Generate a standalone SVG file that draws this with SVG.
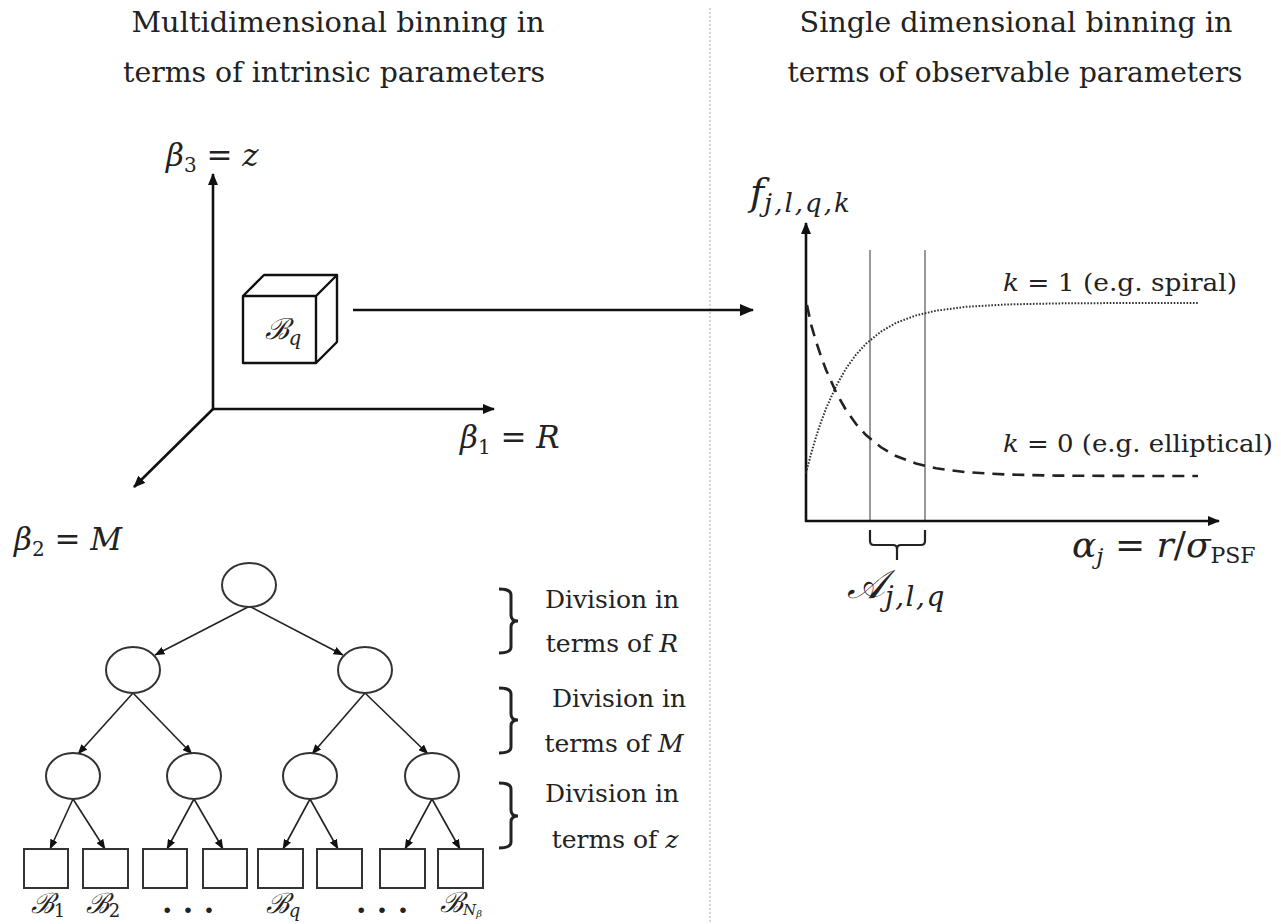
<svg xmlns="http://www.w3.org/2000/svg" width="1281" height="924" viewBox="0 0 1281 924">
<defs>
<style>
text{fill:#222;font-family:"DejaVu Serif","Liberation Serif",serif}
.title{font-size:28px}
.lab{font-size:25px}
.ax{font-size:31px}
.it{font-style:italic}
.sub{font-size:20px}
.axis{stroke:#111;stroke-width:2.6;fill:none}
.edge{stroke:#222;stroke-width:1.6;fill:none}
.node{fill:#fff;stroke:#333;stroke-width:2}
.brace{stroke:#222;stroke-width:3;fill:none}
</style>
<marker id="bigArrow" viewBox="0 0 12 10" refX="11" refY="5" markerWidth="12" markerHeight="10" markerUnits="userSpaceOnUse" orient="auto">
<path d="M0,0 L12,5 L0,10 z" fill="#111"/>
</marker>
<marker id="bigArrow2" viewBox="0 0 14 12" refX="13" refY="6" markerWidth="14" markerHeight="12" markerUnits="userSpaceOnUse" orient="auto">
<path d="M0,0 L14,6 L0,12 z" fill="#111"/>
</marker>
<marker id="smallArrow" viewBox="0 0 10 8" refX="9.5" refY="4" markerWidth="10" markerHeight="8" markerUnits="userSpaceOnUse" orient="auto">
<path d="M0,0 L10,4 L0,8 z" fill="#111"/>
</marker>
</defs>
<rect width="1281" height="924" fill="#fff"/>

<!-- divider -->
<line x1="710" y1="8" x2="710" y2="924" stroke="#c8c8c8" stroke-width="1.5" stroke-dasharray="2 2"/>

<!-- titles -->
<g id="title-left">
<text class="title" x="338" y="32" text-anchor="middle" textLength="413" lengthAdjust="spacingAndGlyphs">Multidimensional binning in</text>
<text class="title" x="334" y="82" text-anchor="middle" textLength="422" lengthAdjust="spacingAndGlyphs">terms of intrinsic parameters</text>
</g>
<g id="title-right">
<text class="title" x="1016" y="32" text-anchor="middle" textLength="433" lengthAdjust="spacingAndGlyphs">Single dimensional binning in</text>
<text class="title" x="1015" y="82" text-anchor="middle" textLength="455" lengthAdjust="spacingAndGlyphs">terms of observable parameters</text>
</g>

<!-- 3D axes -->
<g id="axes3d">
<line class="axis" x1="213" y1="409" x2="213" y2="174" marker-end="url(#bigArrow)"/>
<line class="axis" x1="212" y1="409" x2="494" y2="409" marker-end="url(#bigArrow)"/>
<line class="axis" x1="213" y1="409" x2="134" y2="487" marker-end="url(#bigArrow)"/>
<text class="ax" x="166" y="166"><tspan class="it">β</tspan><tspan class="sub" dy="6">3</tspan><tspan dy="-6"> = </tspan><tspan class="it">z</tspan></text>
<text class="ax" x="460" y="448"><tspan class="it">β</tspan><tspan class="sub" dy="6">1</tspan><tspan dy="-6"> = </tspan><tspan class="it">R</tspan></text>
<text class="ax" x="14" y="550"><tspan class="it">β</tspan><tspan class="sub" dy="6">2</tspan><tspan dy="-6"> = </tspan><tspan class="it">M</tspan></text>
</g>

<!-- cube -->
<g id="cube">
<path d="M243,296 L316,296 L316,363 L243,363 Z M243,296 L264,275 L337,275 L316,296 M337,275 L337,342 L316,363" fill="#fff" stroke="#111" stroke-width="2.4" stroke-linejoin="round"/>
<text x="283" y="339" text-anchor="middle" font-size="29"><tspan class="it">ℬ</tspan><tspan class="sub it" dy="6">q</tspan></text>
</g>

<!-- plot -->
<g id="plot">
<line x1="870" y1="250" x2="870" y2="521" stroke="#999" stroke-width="2"/>
<line x1="925" y1="250" x2="925" y2="521" stroke="#999" stroke-width="2"/>
<line class="axis" x1="806" y1="522" x2="806" y2="223" marker-end="url(#bigArrow)"/>
<line class="axis" x1="805" y1="521" x2="1219" y2="521" marker-end="url(#bigArrow)"/>
<polyline fill="none" stroke="#333" stroke-width="2" stroke-dasharray="1.6 1.6" points="806,473 811,454 816,437 821,422 826,408.6 836,386.3 846,368.6 856,354.7 866,343.8 881,331.6 896,322.9 916,315.4 936,310.7 966,306.8 1006,304.5 1056,303.4 1106,303.1 1198,303"/>
<polyline fill="none" stroke="#222" stroke-width="2.6" stroke-dasharray="12 8" points="807,305 811,324.2 816,341.3 821,356.3 826,369.8 836,392.2 846,410 856,424 866,435 881,447.3 896,456 916,463.5 936,468.3 966,472.2 1006,474.5 1056,475.6 1106,475.9 1198,476"/>
<path class="brace" style="stroke-width:2.2" d="M870,530 L870,541 Q870,545 874,545 L893,545 Q897,545 897,549 L897,560 M897,549 Q897,545 901,545 L921,545 Q925,545 925,541 L925,530"/>
<text x="750" y="205" font-size="38"><tspan class="it">f</tspan><tspan class="it" font-size="26" dy="7" letter-spacing="2">j,l,q,k</tspan></text>
<text class="lab" x="1003" y="291" textLength="234" lengthAdjust="spacingAndGlyphs"><tspan class="it">k</tspan> = 1 (e.g. spiral)</text>
<text class="lab" x="1003" y="452" textLength="270" lengthAdjust="spacingAndGlyphs"><tspan class="it">k</tspan> = 0 (e.g. elliptical)</text>
<text x="1072" y="557" font-size="36"><tspan class="it">α</tspan><tspan class="it" font-size="23" dy="7">j</tspan><tspan dy="-7"> = </tspan><tspan class="it">r</tspan>/<tspan class="it">σ</tspan><tspan font-size="22" dy="6">PSF</tspan></text>
<text x="847" y="598" font-size="40"><tspan class="it">𝒜</tspan><tspan class="it" font-size="28" dy="8" letter-spacing="1.5">j,l,q</tspan></text>
</g>

<!-- connectors -->
<g id="connectors">
<line class="axis" stroke-width="3" x1="353" y1="310" x2="753" y2="310" marker-end="url(#bigArrow2)"/>
<line class="edge" x1="248" y1="607" x2="155" y2="655" marker-end="url(#smallArrow)"/>
<line class="edge" x1="251" y1="607" x2="343" y2="655" marker-end="url(#smallArrow)"/>
<line class="edge" x1="133" y1="693" x2="78" y2="754" marker-end="url(#smallArrow)"/>
<line class="edge" x1="133" y1="693" x2="192" y2="754" marker-end="url(#smallArrow)"/>
<line class="edge" x1="365" y1="693" x2="312" y2="754" marker-end="url(#smallArrow)"/>
<line class="edge" x1="365" y1="693" x2="428" y2="754" marker-end="url(#smallArrow)"/>
<line class="edge" x1="73" y1="799" x2="50" y2="849" marker-end="url(#smallArrow)"/>
<line class="edge" x1="73" y1="799" x2="105" y2="849" marker-end="url(#smallArrow)"/>
<line class="edge" x1="194" y1="799" x2="167" y2="849" marker-end="url(#smallArrow)"/>
<line class="edge" x1="194" y1="799" x2="223" y2="849" marker-end="url(#smallArrow)"/>
<line class="edge" x1="310" y1="799" x2="283" y2="849" marker-end="url(#smallArrow)"/>
<line class="edge" x1="310" y1="799" x2="338" y2="849" marker-end="url(#smallArrow)"/>
<line class="edge" x1="432" y1="799" x2="405" y2="849" marker-end="url(#smallArrow)"/>
<line class="edge" x1="432" y1="799" x2="460" y2="849" marker-end="url(#smallArrow)"/>
</g>

<!-- tree nodes -->
<g id="n-root"><ellipse class="node" cx="249" cy="585" rx="27" ry="22"/></g>
<g id="n-l"><ellipse class="node" cx="133" cy="670" rx="27" ry="23"/></g>
<g id="n-r"><ellipse class="node" cx="365" cy="670" rx="27" ry="23"/></g>
<g id="n-ll"><ellipse class="node" cx="73" cy="776" rx="27" ry="23"/></g>
<g id="n-lr"><ellipse class="node" cx="194" cy="776" rx="27" ry="23"/></g>
<g id="n-rl"><ellipse class="node" cx="310" cy="776" rx="27" ry="23"/></g>
<g id="n-rr"><ellipse class="node" cx="432" cy="776" rx="27" ry="23"/></g>
<g id="leaf1"><rect class="node" x="24" y="849" width="44" height="39"/></g>
<g id="leaf2"><rect class="node" x="83" y="849" width="45" height="39"/></g>
<g id="leaf3"><rect class="node" x="143" y="849" width="44" height="39"/></g>
<g id="leaf4"><rect class="node" x="203" y="849" width="44" height="39"/></g>
<g id="leaf5"><rect class="node" x="258" y="849" width="45" height="39"/></g>
<g id="leaf6"><rect class="node" x="317" y="849" width="45" height="39"/></g>
<g id="leaf7"><rect class="node" x="380" y="849" width="45" height="39"/></g>
<g id="leaf8"><rect class="node" x="438" y="849" width="45" height="39"/></g>

<g id="leaf-labels">
<text x="48" y="913" text-anchor="middle" font-size="28"><tspan class="it">ℬ</tspan><tspan font-size="18" dy="4">1</tspan></text>
<text x="103" y="913" text-anchor="middle" font-size="28"><tspan class="it">ℬ</tspan><tspan font-size="18" dy="4">2</tspan></text>
<text x="188" y="913" text-anchor="middle" font-size="30" font-weight="bold">.  .  .</text>
<text x="283" y="913" text-anchor="middle" font-size="28"><tspan class="it">ℬ</tspan><tspan class="it" font-size="18" dy="4">q</tspan></text>
<text x="382" y="913" text-anchor="middle" font-size="30" font-weight="bold">.  .  .</text>
<text x="461" y="912" text-anchor="middle" font-size="28"><tspan class="it">ℬ</tspan><tspan class="it" font-size="15" dy="3">N</tspan><tspan class="it" font-size="10" dy="2">β</tspan></text>
</g>

<!-- braces -->
<g id="brace-R">
<path class="brace" d="M499,589 Q511,589 511,595 L511,615 Q511,621 518,621 Q511,621 511,627 L511,647 Q511,653 499,653"/>
<text class="lab" x="612" y="608" text-anchor="middle">Division in</text>
<text class="lab" x="612" y="652" text-anchor="middle">terms of <tspan class="it">R</tspan></text>
</g>
<g id="brace-M">
<path class="brace" d="M499,688 Q511,688 511,694 L511,714 Q511,720 518,720 Q511,720 511,726 L511,747 Q511,753 499,753"/>
<text class="lab" x="619" y="707" text-anchor="middle">Division in</text>
<text class="lab" x="614" y="752" text-anchor="middle">terms of <tspan class="it">M</tspan></text>
</g>
<g id="brace-z">
<path class="brace" d="M499,783 Q511,783 511,789 L511,810 Q511,816 518,816 Q511,816 511,822 L511,842 Q511,848 499,848"/>
<text class="lab" x="612" y="802" text-anchor="middle">Division in</text>
<text class="lab" x="615" y="848" text-anchor="middle">terms of <tspan class="it">z</tspan></text>
</g>
</svg>
